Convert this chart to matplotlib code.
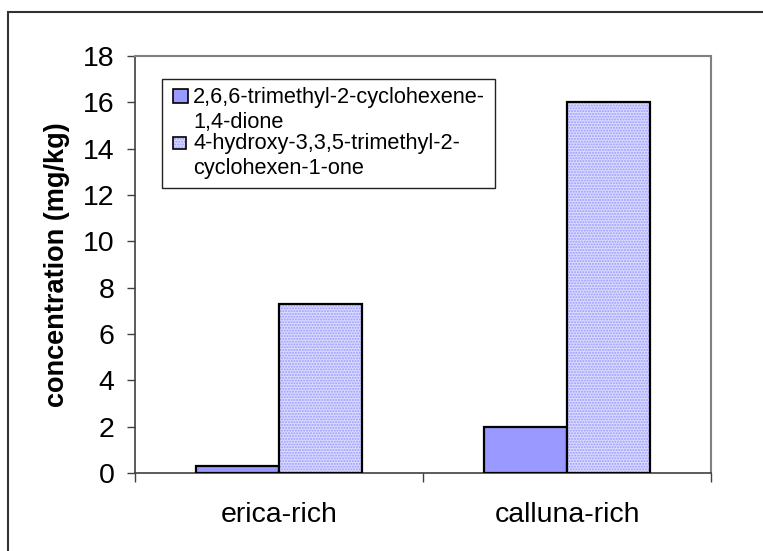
import numpy as np
import matplotlib
matplotlib.use('Agg')
import matplotlib.pyplot as plt
from matplotlib.patches import Rectangle

plt.rcParams['font.family'] = ['Liberation Sans', 'DejaVu Sans']
plt.rcParams['hatch.linewidth'] = 1.0

categories = ['erica-rich', 'calluna-rich']
series_names = ['2,6,6-trimethyl-2-cyclohexene-\n1,4-dione',
                '4-hydroxy-3,3,5-trimethyl-2-\ncyclohexen-1-one']
dione = [0.32, 2.0]
hydroxy = [7.3, 16.0]
yticks = [0, 2, 4, 6, 8, 10, 12, 14, 16, 18]

bar_color = '#9999ff'
dot_bg = '#dcdcff'


def px_x(p):
	# pixel column -> axes fraction
	return (p - 135) / 576


def px_y(p):
	# pixel row -> axes fraction
	return (473 - p) / 417


def main():
	fig = plt.figure(figsize=(7.63, 5.51), dpi=100)
	ax = fig.add_axes([135 / 763, 1 - 473 / 551, 576 / 763, 417 / 551])

	# outer chart border (only left/top visible in the reference)
	fig.add_artist(Rectangle((8 / 763, -0.1), 1.2, 1.1 - 12 / 551,
	                         transform=fig.transFigure, fill=False,
	                         edgecolor='#333333', linewidth=1.5))

	x = np.arange(len(categories))
	w = 0.288

	ax.bar(x - w / 2, dione, w, color=bar_color, edgecolor='black', linewidth=1.6, zorder=3)
	# dotted fill for the second series: hatch first, then outline on top
	ax.bar(x + w / 2, hydroxy, w, color=dot_bg, edgecolor=bar_color,
	       hatch='......', linewidth=0, zorder=3)
	ax.bar(x + w / 2, hydroxy, w, fill=False, edgecolor='black', linewidth=1.6, zorder=4)

	ax.set_xlim(-0.5, len(categories) - 0.5)
	ax.set_ylim(0, 18)
	ax.set_yticks(yticks)
	ax.tick_params(axis='y', direction='out', length=5.8, width=1, color='#404040',
	               labelsize=20.5, pad=9)

	ax.set_xticks(x)
	ax.set_xticklabels(categories)
	ax.set_xticks(np.arange(len(categories) + 1) - 0.5, minor=True)
	ax.tick_params(axis='x', which='major', length=0, labelsize=20.5, pad=21)
	ax.tick_params(axis='x', which='minor', direction='out', length=6.5, width=1, color='#404040')

	for side in ['left', 'bottom']:
		ax.spines[side].set_color('#404040')
		ax.spines[side].set_linewidth(1.2)
	for side in ['top', 'right']:
		ax.spines[side].set_color('#808080')
		ax.spines[side].set_linewidth(1.5)

	ax.set_ylabel('concentration (mg/kg)', fontsize=19.5, fontweight='bold')
	ax.yaxis.set_label_coords(-0.113, 0.5)

	# legend drawn by hand so the markers sit beside the first line of each label
	ax.add_patch(Rectangle((px_x(162), px_y(188)), px_x(495) - px_x(162), px_y(79) - px_y(188),
	                       transform=ax.transAxes, facecolor='white', edgecolor='#222222',
	                       linewidth=1, zorder=5))
	baselines = [[103, 128], [149, 174]]
	boxes = [(173, 89, 15, 14), (173, 137, 13, 12)]
	for i, name in enumerate(series_names):
		bx, by, bw, bh = boxes[i]
		r = (px_x(bx), px_y(by + bh))
		rw, rh = bw / 576, bh / 417
		if i == 0:
			ax.add_patch(Rectangle(r, rw, rh, transform=ax.transAxes, facecolor=bar_color,
			                       edgecolor='black', linewidth=1.2, zorder=6))
		else:
			ax.add_patch(Rectangle(r, rw, rh, transform=ax.transAxes, facecolor=dot_bg,
			                       edgecolor=bar_color, hatch='......', linewidth=0, zorder=6))
			ax.add_patch(Rectangle(r, rw, rh, transform=ax.transAxes, fill=False,
			                       edgecolor='black', linewidth=1.2, zorder=7))
		for line, b in zip(name.split('\n'), baselines[i]):
			ax.text(px_x(193), px_y(b), line, transform=ax.transAxes, fontsize=15.7,
			        va='baseline', ha='left', zorder=7)

	fig.savefig('out.png', dpi=100)


if __name__ == '__main__':
	main()
